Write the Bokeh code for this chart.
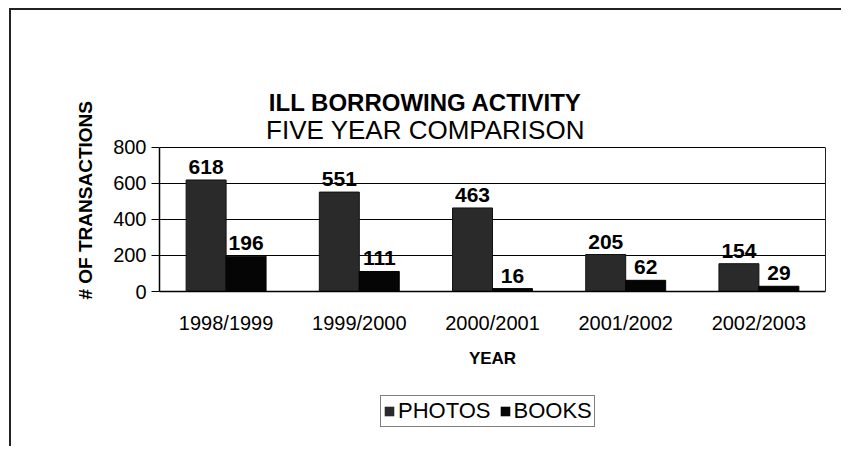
from bokeh.plotting import figure
from bokeh.layouts import column
from bokeh.models import (ColumnDataSource, Legend, LegendItem, Label, Title, FactorRange,
                          FixedTicker, LinearAxis, Range1d)
from bokeh.transform import dodge
from bokeh.core.properties import value
from bokeh.embed import file_html
from bokeh.resources import INLINE

# ---- data ----
years = ["1998/1999", "1999/2000", "2000/2001", "2001/2002", "2002/2003"]
photos = [618, 551, 463, 205, 154]
books = [196, 111, 16, 62, 29]
y_ticks = [0, 200, 400, 600, 800]
y_max = 800
title_main = "ILL BORROWING ACTIVITY"
title_sub = "FIVE YEAR COMPARISON"
y_title = "# OF TRANSACTIONS"
x_title = "YEAR"
series_names = ["PHOTOS", "BOOKS"]

FONT = "Liberation Sans"
C_PHOTOS = "#2a2a2a"
C_BOOKS = "#050505"
W = 830

src = ColumnDataSource(dict(
    year=years, photos=photos, books=books,
    photos_lbl=[str(v) for v in photos],
    books_lbl=[str(v) for v in books],
))

# frame: 0 at 222 px below frame top, 800 at 77 px below top -> headroom for titles
head_px, plot_px = 77, 145
y_end = y_max + head_px * y_max / plot_px

p = figure(x_range=FactorRange(*years), y_range=Range1d(0, y_end),
           width=W, height=360, output_backend="svg", toolbar_location=None,
           min_border_left=148, min_border_right=16,
           min_border_top=60, min_border_bottom=78,
           background_fill_color="white", border_fill_color="white")
p.outline_line_color = None

r_photos = p.vbar(x=dodge("year", -0.15, range=p.x_range), top="photos", width=0.3,
                  source=src, fill_color=C_PHOTOS, line_color="#111111")
r_books = p.vbar(x=dodge("year", 0.15, range=p.x_range), top="books", width=0.3,
                 source=src, fill_color=C_BOOKS, line_color="#000000")

lbl_kw = dict(text_align="center", text_baseline="alphabetic", y_offset=-13,
              text_font=value(FONT), text_font_style="bold",
              text_font_size="21px", text_color="black", source=src)
p.text(x=dodge("year", -0.15, range=p.x_range), y="photos", text="photos_lbl", **lbl_kw)
p.text(x=dodge("year", 0.15, range=p.x_range), y="books", text="books_lbl", **lbl_kw)

p.xgrid.grid_line_color = None
p.ygrid.grid_line_color = "black"
p.ygrid.grid_line_width = 1

# left axis
p.yaxis.ticker = FixedTicker(ticks=y_ticks)
p.yaxis.bounds = (0, y_max)
p.yaxis.major_label_text_font = FONT
p.yaxis.major_label_text_font_size = "20px"
p.yaxis.major_label_text_color = "black"
p.yaxis.major_tick_out = 8
p.yaxis.major_tick_in = 0
p.yaxis.minor_tick_line_color = None
p.yaxis.axis_line_color = "black"
p.yaxis.axis_line_width = 1.5
p.yaxis.major_tick_line_color = "black"
p.yaxis.major_label_standoff = 5
p.add_layout(Title(text=y_title, align="left", offset=-8, standoff=30,
                   text_font=FONT, text_font_style="bold", text_font_size="19px",
                   text_color="black"), "left")

# right edge of plot area
p.add_layout(LinearAxis(ticker=FixedTicker(ticks=[]), bounds=(0, y_max),
                        axis_line_color="#222222", axis_line_width=1,
                        major_tick_line_color=None, minor_tick_line_color=None), "right")

# x axis
p.xaxis.axis_label = x_title
p.xaxis.axis_label_text_font = FONT
p.xaxis.axis_label_text_font_style = "bold"
p.xaxis.axis_label_text_font_size = "17px"
p.xaxis.axis_label_text_color = "black"
p.xaxis.axis_label_standoff = 12
p.xaxis.major_label_text_font = FONT
p.xaxis.major_label_text_font_size = "20px"
p.xaxis.major_label_text_color = "black"
p.xaxis.major_tick_in = 0
p.xaxis.major_tick_out = 0
p.xaxis.major_label_standoff = 20
p.xaxis.axis_line_color = "black"
p.xaxis.axis_line_width = 1.5

# titles inside the head room of the frame (frame-relative screen units)
p.add_layout(Label(x=266, y=189, x_units="screen", y_units="screen", text=title_main,
                   text_align="center", text_baseline="alphabetic",
                   text_font=FONT, text_font_style="bold", text_font_size="24px",
                   text_color="black"))
p.add_layout(Label(x=266, y=162, x_units="screen", y_units="screen", text=title_sub,
                   text_align="center", text_baseline="alphabetic",
                   text_font=FONT, text_font_size="26px", text_color="black"))

# ---------- legend strip ----------
p2 = figure(x_range=p.x_range, y_range=Range1d(10000, 10001),
            width=W, height=76, output_backend="svg", toolbar_location=None,
            x_axis_type=None, y_axis_type=None, min_border=0,
            background_fill_color="white", border_fill_color="white")
p2.outline_line_color = None
p2.grid.visible = False
k_photos = p2.vbar(x=dodge("year", -0.15, range=p.x_range), top="photos", width=0.3,
                   source=src, fill_color=C_PHOTOS, line_color="#111111", line_alpha=0)
k_books = p2.vbar(x=dodge("year", 0.15, range=p.x_range), top="books", width=0.3,
                  source=src, fill_color=C_BOOKS, line_color="#000000", line_alpha=0)
legend = Legend(items=[LegendItem(label=series_names[0], renderers=[k_photos]),
                       LegendItem(label=series_names[1], renderers=[k_books])],
                orientation="horizontal", location=(221, 19))
legend.label_text_font = FONT
legend.label_text_font_size = "22px"
legend.label_text_color = "black"
legend.glyph_width = 12
legend.glyph_height = 12
legend.label_standoff = 3
legend.spacing = 8
legend.padding = 2
legend.margin = 0
legend.border_line_color = "black"
legend.border_line_width = 1
legend.background_fill_color = "white"
p2.add_layout(legend, "center")

layout = column(p, p2, spacing=0,
                styles={"margin-left": "9px", "margin-top": "8px",
                        "border-top": "2px solid #222", "border-left": "2px solid #222"})

open("out.html", "w").write(file_html(layout, INLINE))
